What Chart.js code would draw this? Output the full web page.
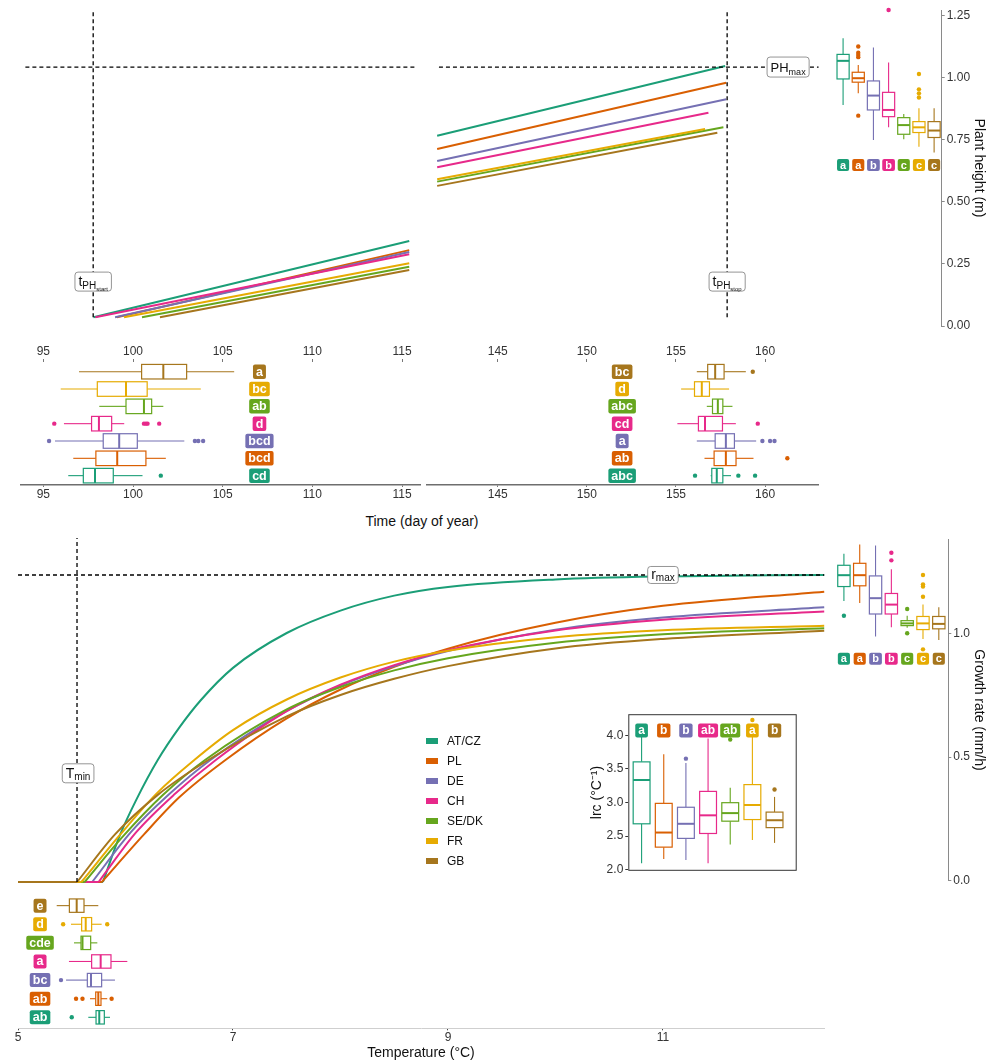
<!DOCTYPE html>
<html>
<head>
<meta charset="utf-8">
<script src="https://cdn.jsdelivr.net/npm/chart.js@4.4.1/dist/chart.umd.min.js"></script>
<style>
  body { margin: 0; background: #fff; font-family: "Liberation Sans", Arial, Helvetica, sans-serif; }
  #fig { position: relative; width: 987px; height: 1064px; overflow: hidden; background: #fff; }
  #fig canvas { position: absolute; }
  .txt { position: absolute; white-space: nowrap; color: #111; }
  .key { position: absolute; width: 12px; height: 6px; }
</style>
</head>
<body>
<div id="fig"></div>
<script>
// ---------- groups ----------
const countries = ['AT/CZ', 'PL', 'DE', 'CH', 'SE/DK', 'FR', 'GB'];
const palette = ['#1B9E77', '#D95F02', '#7570B3', '#E7298A', '#66A61E', '#E6AB02', '#A6761D'];

// ---------- plant height vs day of year ----------
const heightTicks = [0, 0.25, 0.5, 0.75, 1.0, 1.25];
const dayTicksEarly = [95, 100, 105, 110, 115];
const dayTicksLate = [145, 150, 155, 160];

const heightBase = 0.035;                       // height at growth start
const heightStartDay = [97.8, 99.1, 99.0, 97.9, 100.5, 99.5, 101.5];
const earlyEndDay = 115.4;                      // last day shown before the axis break
const heightAtEarlyEnd = [0.343, 0.306, 0.298, 0.289, 0.239, 0.253, 0.226];
const lateStartDay = 141.6;                     // first day shown after the axis break
const heightAtLateStart = [0.767, 0.714, 0.665, 0.640, 0.582, 0.592, 0.565];
const heightEndDay = [157.76, 157.82, 157.82, 156.82, 157.66, 156.63, 157.32];
const heightAtEnd = [1.048, 0.981, 0.914, 0.860, 0.801, 0.794, 0.779];

const tStartRef = 97.78;
const tStopRef = 157.87;
const phMaxRef = 1.044;

// PHmax per group: [lower whisker, Q1, median, Q3, upper whisker]
const phmaxStats = [
  [0.891, 0.996, 1.069, 1.095, 1.160],
  [0.938, 0.983, 0.999, 1.023, 1.052],
  [0.750, 0.871, 0.929, 0.988, 1.123],
  [0.801, 0.844, 0.871, 0.942, 1.062],
  [0.753, 0.773, 0.810, 0.840, 0.855],
  [0.723, 0.780, 0.801, 0.824, 0.878],
  [0.699, 0.760, 0.788, 0.824, 0.878]
];
const phmaxOutliers = [[], [1.127, 1.102, 1.093, 1.084, 0.848], [], [1.274], [], [1.016, 0.954, 0.938, 0.921], []];
const phmaxLetters = ['a', 'a', 'b', 'b', 'c', 'c', 'c'];

// tPHstart per group
const tstartStats = [
  [96.39, 97.23, 97.88, 98.90, 100.53],
  [96.67, 97.93, 99.12, 100.72, 101.83],
  [95.65, 98.34, 99.23, 100.24, 102.86],
  [96.15, 97.69, 98.10, 98.81, 99.51],
  [98.12, 99.61, 100.61, 101.04, 101.69],
  [95.97, 98.01, 99.61, 100.79, 103.78],
  [96.99, 100.48, 101.69, 102.99, 105.64]
];
const tstartOutliers = [[101.55], [], [95.32, 103.45, 103.64, 103.91], [95.61, 100.61, 100.72, 100.81, 101.46], [], [], []];
const tstartLetters = ['cd', 'bcd', 'bcd', 'd', 'ab', 'bc', 'a'];

// tPHstop per group
const tstopStats = [
  [156.95, 157.01, 157.29, 157.63, 158.09],
  [156.60, 157.14, 157.80, 158.37, 159.35],
  [156.17, 157.20, 157.80, 158.28, 159.50],
  [155.08, 156.26, 156.63, 157.61, 158.36],
  [156.73, 157.05, 157.35, 157.63, 158.17],
  [155.29, 156.04, 156.45, 156.88, 157.98],
  [156.17, 156.78, 157.20, 157.70, 158.92]
];
const tstopOutliers = [[156.07, 158.50, 159.44], [161.25], [159.85, 160.28, 160.53], [159.59], [], [], [159.31]];
const tstopLetters = ['abc', 'ab', 'a', 'cd', 'abc', 'd', 'bc'];

// ---------- growth rate vs temperature ----------
const tempTicks = [5, 7, 9, 11];
const rateTicks = [0, 0.5, 1.0];
const tminRef = 5.549;
const rmaxRef = 1.233;
const tempAxisStart = 5;

// temperature where each curve leaves zero
const rateOnset = [5.79, 5.78, 5.69, 5.75, 5.62, 5.59, 5.55];
// [temperature, growth rate], from the onset upward
const rateAtCz = [[5.79, 0], [5.95, 0.19], [6.1, 0.33], [6.3, 0.49], [6.5, 0.62], [6.7, 0.73], [7, 0.86], [7.5, 1.00], [8, 1.09], [8.5, 1.15], [9, 1.185], [10, 1.215], [11, 1.227], [12.5, 1.233]];
const ratePl   = [[5.78, 0], [6.17, 0.19], [6.5, 0.34], [6.93, 0.49], [7.5, 0.657], [8, 0.773], [8.5, 0.864], [9, 0.937], [10, 1.041], [11, 1.109], [12.5, 1.166]];
const rateDe   = [[5.69, 0], [6.05, 0.20], [6.4, 0.35], [6.79, 0.49], [7.5, 0.687], [8, 0.789], [8.5, 0.867], [9, 0.928], [10, 1.013], [11, 1.062], [12.5, 1.103]];
const rateCh   = [[5.75, 0], [6.10, 0.20], [6.45, 0.35], [6.84, 0.49], [7.5, 0.686], [8, 0.792], [8.5, 0.871], [9, 0.931], [10, 1.010], [11, 1.053], [12.5, 1.086]];
const rateSeDk = [[5.62, 0], [5.97, 0.18], [6.35, 0.35], [6.74, 0.49], [7.5, 0.693], [8, 0.783], [8.5, 0.850], [9, 0.899], [10, 0.961], [11, 0.995], [12.5, 1.019]];
const rateFr   = [[5.59, 0], [5.95, 0.19], [6.3, 0.36], [6.64, 0.49], [7, 0.61], [7.5, 0.733], [8, 0.821], [8.5, 0.885], [9, 0.929], [10, 0.983], [11, 1.011], [12.5, 1.029]];
const rateGb   = [[5.55, 0], [5.90, 0.19], [6.3, 0.35], [6.77, 0.49], [7.5, 0.665], [8, 0.751], [8.5, 0.816], [9, 0.867], [10, 0.938], [11, 0.976], [12.5, 1.009]];
const rateCurves = [rateAtCz, ratePl, rateDe, rateCh, rateSeDk, rateFr, rateGb];

// rmax per group
const rmaxStats = [
  [1.132, 1.190, 1.236, 1.276, 1.323],
  [1.123, 1.193, 1.236, 1.284, 1.360],
  [0.988, 1.079, 1.143, 1.233, 1.356],
  [1.025, 1.079, 1.117, 1.162, 1.260],
  [1.023, 1.032, 1.041, 1.052, 1.072],
  [0.978, 1.016, 1.041, 1.069, 1.117],
  [0.974, 1.019, 1.039, 1.069, 1.106]
];
const rmaxOutliers = [[1.072], [], [], [1.327, 1.296], [1.099, 1.001], [1.237, 1.199, 1.190, 1.149, 0.936], []];
const rmaxLetters = ['a', 'a', 'b', 'b', 'c', 'c', 'c'];

// lrc per group
const lrcTicks = [2.0, 2.5, 3.0, 3.5, 4.0];
const lrcStats = [
  [2.096, 2.684, 3.335, 3.605, 4.000],
  [2.159, 2.337, 2.554, 2.988, 3.720],
  [2.145, 2.467, 2.684, 2.930, 3.590],
  [2.096, 2.540, 2.810, 3.166, 3.952],
  [2.376, 2.723, 2.843, 2.998, 3.219],
  [2.443, 2.747, 2.964, 3.267, 4.020],
  [2.400, 2.627, 2.737, 2.858, 3.084]
];
const lrcOutliers = [[], [], [3.653], [], [3.937], [4.227], [3.195]];
const lrcLetters = ['a', 'b', 'b', 'ab', 'ab', 'a', 'b'];

// Tmin per group
const tminStats = [
  [5.654, 5.726, 5.756, 5.803, 5.856],
  [5.670, 5.723, 5.747, 5.772, 5.830],
  [5.447, 5.645, 5.679, 5.778, 5.902],
  [5.474, 5.685, 5.769, 5.865, 6.017],
  [5.521, 5.586, 5.600, 5.676, 5.738],
  [5.493, 5.592, 5.630, 5.685, 5.778],
  [5.360, 5.478, 5.546, 5.614, 5.747]
];
const tminOutliers = [[5.50], [5.54, 5.60, 5.871], [5.40], [], [], [5.42, 5.83], []];
const tminLetters = ['ab', 'ab', 'bc', 'a', 'cde', 'd', 'e'];

// ---------- drawing helpers ----------
const FONT = '"Liberation Sans", Arial, Helvetica, sans-serif';
Chart.defaults.font.family = FONT;
Chart.defaults.font.size = 12;
Chart.defaults.color = '#333';
Chart.defaults.animation = false;
Chart.defaults.responsive = false;
Chart.defaults.events = [];
Chart.defaults.plugins.legend.display = false;
Chart.defaults.plugins.tooltip.enabled = false;

const fig = document.getElementById('fig');
const positions = countries.map((_, i) => i + 1);

function mk(left, top, w, h) {
  const c = document.createElement('canvas');
  c.width = w; c.height = h;
  c.style.left = left + 'px'; c.style.top = top + 'px';
  c.style.width = w + 'px'; c.style.height = h + 'px';
  fig.appendChild(c);
  return c;
}

function roundRect(ctx, x, y, w, h, r) {
  ctx.beginPath();
  ctx.moveTo(x + r, y);
  ctx.lineTo(x + w - r, y); ctx.quadraticCurveTo(x + w, y, x + w, y + r);
  ctx.lineTo(x + w, y + h - r); ctx.quadraticCurveTo(x + w, y + h, x + w - r, y + h);
  ctx.lineTo(x + r, y + h); ctx.quadraticCurveTo(x, y + h, x, y + h - r);
  ctx.lineTo(x, y + r); ctx.quadraticCurveTo(x, y, x + r, y);
  ctx.closePath();
}

function badge(ctx, cx, cy, text, color, size, h) {
  ctx.font = 'bold ' + size + 'px ' + FONT;
  const w = ctx.measureText(text).width + 6;
  roundRect(ctx, cx - w / 2, cy - h / 2, w, h, 2);
  ctx.fillStyle = color; ctx.fill();
  ctx.fillStyle = '#fff';
  ctx.textAlign = 'center'; ctx.textBaseline = 'middle';
  ctx.fillText(text, cx, cy + 0.5);
}

// Box-and-whisker glyphs placed through the chart's own scales
const boxplotPlugin = {
  id: 'boxplot',
  afterDatasetsDraw(chart, _args, o) {
    if (!o || !o.stats) return;
    const ctx = chart.ctx;
    const H = !!o.horizontal;
    const vS = H ? chart.scales.x : chart.scales.y;
    const cS = H ? chart.scales.y : chart.scales.x;
    const P = (v, c) => H ? [vS.getPixelForValue(v), cS.getPixelForValue(c)]
                          : [cS.getPixelForValue(c), vS.getPixelForValue(v)];
    const seg = (a, b) => { ctx.beginPath(); ctx.moveTo(a[0], a[1]); ctx.lineTo(b[0], b[1]); ctx.stroke(); };
    ctx.save();
    o.stats.forEach((s, i) => {
      const c = positions[i], hw = o.halfWidth, col = palette[i];
      const [lo, q1, med, q3, hi] = s;
      ctx.strokeStyle = col; ctx.lineWidth = 1.1;
      seg(P(lo, c), P(q1, c));
      seg(P(q3, c), P(hi, c));
      const a = P(q1, c - hw), b = P(q3, c + hw);
      const x = Math.min(a[0], b[0]), y = Math.min(a[1], b[1]);
      const w = Math.abs(a[0] - b[0]), h = Math.abs(a[1] - b[1]);
      ctx.fillStyle = '#fff'; ctx.fillRect(x, y, w, h);
      ctx.lineWidth = 1.2; ctx.strokeRect(x, y, w, h);
      ctx.lineWidth = 2; seg(P(med, c - hw), P(med, c + hw));
      ctx.fillStyle = col;
      (o.outliers[i] || []).forEach(v => {
        const p = P(v, c);
        ctx.beginPath(); ctx.arc(p[0], p[1], 2.2, 0, Math.PI * 2); ctx.fill();
      });
    });
    if (o.letters) {
      o.letters.forEach((t, i) => {
        const p = P(o.letterAt, positions[i]);
        badge(ctx, p[0], p[1], t, palette[i], o.badgeFont, o.badgeH);
      });
    }
    if (o.frame) {
      const ca = chart.chartArea;
      ctx.strokeStyle = '#333'; ctx.lineWidth = 1;
      ctx.strokeRect(ca.left + 0.5, ca.top + 0.5, ca.right - ca.left - 1, ca.bottom - ca.top - 1);
    }
    ctx.restore();
  }
};

// Boxed reference labels with subscripts, anchored in data coordinates
const tagPlugin = {
  id: 'tags',
  afterDatasetsDraw(chart, _args, o) {
    if (!o || !o.items) return;
    const ctx = chart.ctx;
    ctx.save();
    o.items.forEach(it => {
      const cx = chart.scales.x.getPixelForValue(it.x);
      const cy = chart.scales.y.getPixelForValue(it.y);
      let tw = 0;
      it.parts.forEach(p => { ctx.font = p.size + 'px ' + FONT; p.w = ctx.measureText(p.t).width; tw += p.w; });
      const bw = tw + 7, bh = it.h || 19;
      roundRect(ctx, cx - bw / 2, cy - bh / 2, bw, bh, 3);
      ctx.fillStyle = '#fff'; ctx.fill();
      ctx.strokeStyle = '#7a7a7a'; ctx.lineWidth = 0.8; ctx.stroke();
      let x = cx - tw / 2;
      ctx.fillStyle = '#111'; ctx.textAlign = 'left'; ctx.textBaseline = 'alphabetic';
      it.parts.forEach(p => {
        ctx.font = p.size + 'px ' + FONT;
        ctx.fillText(p.t, x, cy + it.base + p.dy);
        x += p.w;
      });
    });
    ctx.restore();
  }
};

function lineDs(points, color, order, opts) {
  return Object.assign({
    data: points.map(p => ({ x: p[0], y: p[1] })),
    borderColor: color, borderWidth: 2, pointRadius: 0, fill: false,
    tension: 0, order: order, clip: false
  }, opts || {});
}
const dashed = { borderColor: '#000', borderWidth: 1.3, borderDash: [4, 3] };

function hiddenLinear(min, max) { return { type: 'linear', display: false, min: min, max: max }; }

// ---------- plant height lines, before the axis break ----------
new Chart(mk(20, 10, 400, 316), {
  type: 'line',
  data: {
    datasets: [
      lineDs([[tStartRef, heightBase], [tStartRef, 1.274]], '#000', 0, dashed),
      lineDs([[94.0, phMaxRef], [115.7, phMaxRef]], '#000', 0, dashed)
    ].concat(countries.map((c, i) => lineDs(
      [[heightStartDay[i], heightBase], [earlyEndDay, heightAtEarlyEnd[i]]], palette[i], countries.length - i)))
  },
  options: {
    parsing: false,
    scales: { x: hiddenLinear(93.7, 116), y: hiddenLinear(0, 1.274) },
    plugins: {
      tags: { items: [{ x: tStartRef, y: 0.179, base: 4, h: 19, parts: [
        { t: 't', size: 14, dy: 0 }, { t: 'PH', size: 10, dy: 3 }, { t: 'start', size: 6, dy: 5 }] }] }
    }
  },
  plugins: [tagPlugin]
});

// ---------- plant height lines, after the axis break ----------
new Chart(mk(427, 10, 393, 316), {
  type: 'line',
  data: {
    datasets: [
      lineDs([[tStopRef, heightBase], [tStopRef, 1.274]], '#000', 0, dashed),
      lineDs([[141.7, phMaxRef], [163.0, phMaxRef]], '#000', 0, dashed)
    ].concat(countries.map((c, i) => lineDs(
      [[lateStartDay, heightAtLateStart[i]], [heightEndDay[i], heightAtEnd[i]]], palette[i], countries.length - i)))
  },
  options: {
    parsing: false,
    scales: { x: hiddenLinear(141.03, 163.08), y: hiddenLinear(0, 1.274) },
    plugins: {
      tags: { items: [
        { x: tStopRef, y: 0.179, base: 4, h: 19, parts: [
          { t: 't', size: 14, dy: 0 }, { t: 'PH', size: 10, dy: 3 }, { t: 'stop', size: 6, dy: 5 }] },
        { x: 161.29, y: phMaxRef, base: 4.5, h: 20, parts: [
          { t: 'PH', size: 13, dy: 0 }, { t: 'max', size: 9, dy: 3 }] }
      ] }
    }
  },
  plugins: [tagPlugin]
});

// ---------- PHmax boxes with the height axis ----------
new Chart(mk(830, 0, 157, 340), {
  type: 'scatter',
  data: { datasets: [] },
  options: {
    layout: { padding: { left: 5.5, top: 10, bottom: 14, right: 0 } },
    scales: {
      x: hiddenLinear(0.5, 7.5),
      y: {
        type: 'linear', position: 'right', min: 0, max: 1.274,
        afterBuildTicks: s => { s.ticks = heightTicks.map(v => ({ value: v })); },
        afterFit: s => { s.width = 45.3; },
        ticks: { callback: v => v.toFixed(2), padding: 2, color: '#333', font: { size: 12 } },
        grid: { drawOnChartArea: false, tickLength: 3, color: '#8a8a8a' },
        border: { display: true, color: '#8a8a8a', width: 1 },
        title: { display: true, text: 'Plant height (m)', color: '#111', font: { size: 14 }, padding: { top: 0, bottom: 0 } }
      }
    },
    plugins: {
      boxplot: { stats: phmaxStats, outliers: phmaxOutliers, halfWidth: 0.4,
        letters: phmaxLetters, letterAt: 0.649, badgeFont: 11, badgeH: 12 }
    }
  },
  plugins: [boxplotPlugin]
});

// ---------- tPHstart and tPHstop boxes ----------
function dayBoxChart(left, width, padL, padR, min, max, ticksArr, stats, outliers, letters, letterAt) {
  const axisX = (pos, extra) => Object.assign({
    type: 'linear', position: pos, min: min, max: max,
    afterBuildTicks: s => { s.ticks = ticksArr.map(v => ({ value: v })); },
    ticks: { padding: 0, color: '#333', font: { size: 12 } },
    grid: { drawOnChartArea: false, tickLength: pos === 'top' ? 3 : 2, color: '#777' }
  }, extra);
  return new Chart(mk(left, 340, width, 160), {
    type: 'scatter',
    data: { datasets: [] },
    options: {
      layout: { padding: { left: padL, right: padR, top: 0, bottom: 0 } },
      scales: {
        x: axisX('bottom', { afterFit: s => { s.height = 15; }, border: { display: true, color: '#6e6e6e', width: 1.5 } }),
        xTop: axisX('top', { afterFit: s => { s.height = 22; }, border: { display: false } }),
        y: hiddenLinear(0.46, 7.56)
      },
      plugins: {
        boxplot: { horizontal: true, stats: stats, outliers: outliers, halfWidth: 0.42,
          letters: letters, letterAt: letterAt, badgeFont: 12.5, badgeH: 14.5 }
      }
    },
    plugins: [boxplotPlugin]
  });
}
dayBoxChart(20, 405, 0, 5, 93.7, 116, dayTicksEarly, tstartStats, tstartOutliers, tstartLetters, 107.05);
dayBoxChart(425, 400, 2, 7, 141.03, 162.97, dayTicksLate, tstopStats, tstopOutliers, tstopLetters, 151.98);

// ---------- growth rate curves ----------
const zeroRuns = rateOnset.map((t, i) => lineDs([[tempAxisStart, 0], [t, 0]], palette[i], countries.length - i));
const riseRuns = rateCurves.map((pts, i) => lineDs(pts, palette[i], countries.length - i,
  { cubicInterpolationMode: 'monotone' }));
new Chart(mk(10, 530, 820, 360), {
  type: 'line',
  data: {
    datasets: [
      lineDs([[tminRef, 0], [tminRef, 1.381]], '#000', 0, dashed),
      lineDs([[tempAxisStart, rmaxRef], [12.5, rmaxRef]], '#000', 0, dashed)
    ].concat(zeroRuns, riseRuns)
  },
  options: {
    parsing: false,
    layout: { padding: { left: 8, right: 6, top: 8, bottom: 8 } },
    scales: { x: hiddenLinear(5, 12.498), y: hiddenLinear(0, 1.3815) },
    plugins: {
      tags: { items: [
        { x: tminRef + 0.01, y: 0.4365, base: 5, h: 19, parts: [{ t: 'T', size: 14, dy: 0 }, { t: 'min', size: 10, dy: 2 }] },
        { x: 11.0, y: rmaxRef, base: 4, h: 17, parts: [{ t: 'r', size: 14, dy: 0 }, { t: 'max', size: 10, dy: 2 }] }
      ] }
    }
  },
  plugins: [tagPlugin]
});

// ---------- rmax boxes with the growth-rate axis ----------
new Chart(mk(830, 530, 157, 360), {
  type: 'scatter',
  data: { datasets: [] },
  options: {
    layout: { padding: { left: 6, top: 8, bottom: 8, right: 0 } },
    scales: {
      x: hiddenLinear(0.5, 7.6),
      y: {
        type: 'linear', position: 'right', min: 0, max: 1.3815,
        afterBuildTicks: s => { s.ticks = rateTicks.map(v => ({ value: v })); },
        afterFit: s => { s.width = 38.7; },
        ticks: { callback: v => v.toFixed(1), padding: 2, color: '#333', font: { size: 12 } },
        grid: { drawOnChartArea: false, tickLength: 3, color: '#8a8a8a' },
        border: { display: true, color: '#8a8a8a', width: 1 },
        title: { display: true, text: 'Growth rate (mm/h)', color: '#111', font: { size: 14 }, padding: { top: 0, bottom: 0 } }
      }
    },
    plugins: {
      boxplot: { stats: rmaxStats, outliers: rmaxOutliers, halfWidth: 0.39,
        letters: rmaxLetters, letterAt: 0.898, badgeFont: 11, badgeH: 12 }
    }
  },
  plugins: [boxplotPlugin]
});

// ---------- Tmin boxes with the temperature axis ----------
new Chart(mk(10, 888, 820, 176), {
  type: 'scatter',
  data: { datasets: [] },
  options: {
    layout: { padding: { left: 8, right: 6, top: 2, bottom: 0 } },
    scales: {
      x: {
        type: 'linear', position: 'bottom', min: 5, max: 12.498,
        afterBuildTicks: s => { s.ticks = tempTicks.map(v => ({ value: v })); },
        afterFit: s => { s.height = 35.7; },
        ticks: { padding: 0, color: '#333', font: { size: 12 } },
        grid: { drawOnChartArea: false, tickLength: 2, color: '#444' },
        border: { display: true, color: '#cfcfcf', width: 1 },
        title: { display: true, text: 'Temperature (°C)', color: '#111', font: { size: 14 }, padding: { top: 0, bottom: 2.5 } }
      },
      y: hiddenLinear(0.41, 7.84)
    },
    plugins: {
      boxplot: { horizontal: true, stats: tminStats, outliers: tminOutliers, halfWidth: 0.36,
        letters: tminLetters, letterAt: 5.205, badgeFont: 12.5, badgeH: 14 }
    }
  },
  plugins: [boxplotPlugin]
});

// ---------- lrc inset ----------
new Chart(mk(585, 705, 215, 175), {
  type: 'scatter',
  data: { datasets: [] },
  options: {
    layout: { padding: { left: 0, right: 3.3, top: 8.3, bottom: 6 } },
    scales: {
      x: hiddenLinear(0.4, 8.0),
      y: {
        type: 'linear', position: 'left', min: 1.985, max: 4.314,
        afterBuildTicks: s => { s.ticks = lrcTicks.map(v => ({ value: v })); },
        afterFit: s => { s.width = 43.3; },
        ticks: { callback: v => v.toFixed(1), padding: 2, color: '#333', font: { size: 12 } },
        grid: { drawOnChartArea: false, tickLength: 3, color: '#333' },
        border: { display: false },
        title: { display: true, text: 'lrc (°C⁻¹)', color: '#111', font: { size: 14 }, padding: { top: 3.6, bottom: 0 } }
      }
    },
    plugins: {
      boxplot: { stats: lrcStats, outliers: lrcOutliers, halfWidth: 0.38, frame: true,
        letters: lrcLetters, letterAt: 4.07, badgeFont: 12, badgeH: 14 }
    }
  },
  plugins: [{ id: 'insetBg', beforeDraw(chart) {
    const ca = chart.chartArea, ctx = chart.ctx;
    ctx.save(); ctx.fillStyle = '#fff'; ctx.fillRect(ca.left, ca.top, ca.right - ca.left, ca.bottom - ca.top); ctx.restore();
  } }, boxplotPlugin]
});

// ---------- legend and shared time-axis title ----------
countries.forEach((c, i) => {
  const cy = 740.7 + 20 * i;
  const k = document.createElement('div');
  k.className = 'key'; k.style.left = '426px'; k.style.top = (cy - 3) + 'px'; k.style.background = palette[i];
  fig.appendChild(k);
  const t = document.createElement('div');
  t.className = 'txt'; t.textContent = c;
  t.style.left = '447px'; t.style.top = (cy - 7) + 'px'; t.style.fontSize = '12px'; t.style.lineHeight = '14px';
  fig.appendChild(t);
});
const timeTitle = document.createElement('div');
timeTitle.className = 'txt';
timeTitle.textContent = 'Time (day of year)';
timeTitle.style.fontSize = '14px'; timeTitle.style.lineHeight = '16px';
timeTitle.style.left = '422px'; timeTitle.style.top = '513px'; timeTitle.style.transform = 'translateX(-50%)';
fig.appendChild(timeTitle);
</script>
</body>
</html>
